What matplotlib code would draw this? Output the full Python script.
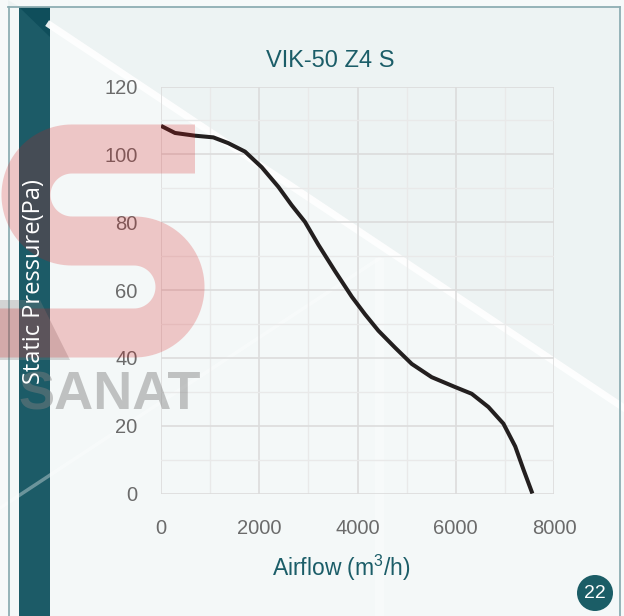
import numpy as np
import matplotlib.pyplot as plt
from matplotlib.patches import Rectangle, Polygon, Circle

plt.rcParams['mathtext.fontset'] = 'custom'
plt.rcParams['mathtext.rm'] = 'Liberation Sans'

# fan curve
airflow = [0, 285, 690, 1065, 1370, 1710, 2050, 2390, 2660, 2930, 3205, 3545,
           3885, 4155, 4425, 4765, 5105, 5510, 5985, 6325, 6665, 6970, 7210,
           7380, 7560]
pressure = [108.4, 106.3, 105.5, 105, 103.3, 100.8, 96.2, 90.4, 85, 80.1, 73.3,
            65.5, 58, 52.8, 48, 43, 38.2, 34.3, 31.4, 29.4, 25.5, 20.6, 13.9,
            7, 0]

xticks = [0, 2000, 4000, 6000, 8000]
yticks = [0, 20, 40, 60, 80, 100, 120]

title = 'VIK-50 Z4 S'
teal = '#1b5d68'

fig = plt.figure(figsize=(6.24, 6.16), dpi=100)
fig.patch.set_facecolor('#f6f9f9')

# background layer in pixel coords
bg = fig.add_axes([0, 0, 1, 1], zorder=0)
bg.set_xlim(0, 624)
bg.set_ylim(616, 0)
bg.axis('off')
bg.add_patch(Rectangle((8, 7), 612, 609, color='#f4f8f8', lw=0))
bg.add_patch(Polygon([(8, 7), (620, 7), (620, 405), (50, 25), (8, 0)],
                     closed=True, color='#edf3f3', lw=0))
bg.plot([50, 624], [25, 408], color='white', lw=5, alpha=0.9)
bg.plot([0, 380], [508, 258], color='white', lw=2.5, alpha=0.35)
bg.add_patch(Rectangle((375, 258), 9, 358, color='white', alpha=0.3, lw=0))
bg.plot([8.5, 8.5], [7, 616], color='#8eaeb3', lw=1.3)
bg.plot([8, 620], [7, 7], color='#8eaeb3', lw=1.3)
bg.plot([620, 620], [7, 616], color='#8eaeb3', lw=1.3)
bg.add_patch(Rectangle((19, 7), 31, 609, color='#1c5b67', lw=0))
bg.add_patch(Polygon([(19, 7), (50, 7), (50, 37)], closed=True, color='#0f4e5b', lw=0))

ax = fig.add_axes([161 / 624, 122.5 / 616, 393 / 624, 407 / 616], zorder=1)
ax.patch.set_alpha(0)
ax.plot(airflow, pressure, color='#231f1f', lw=2.9, solid_capstyle='butt',
        solid_joinstyle='round')
ax.set_xlim(0, 8000)
ax.set_ylim(0, 120)
ax.set_xticks(xticks)
ax.set_yticks(yticks)
ax.set_xticks(range(1000, 8000, 2000), minor=True)
ax.set_yticks(range(10, 120, 20), minor=True)
ax.grid(True, which='major', color='#dcdcdc', lw=1.2)
ax.grid(True, which='minor', color='#e9e9e9', lw=1.0)
ax.set_axisbelow(True)
for s in ax.spines.values():
    s.set_visible(False)
ax.tick_params(which='both', length=0)
ax.tick_params(axis='y', pad=17)
ax.tick_params(axis='x', pad=18)
for lab in ax.get_xticklabels() + ax.get_yticklabels():
    lab.set_fontfamily('Liberation Sans')
    lab.set_fontsize(14.5)
    lab.set_color('#6b6b6b')

fig.text(330 / 624, 1 - 61 / 616, title, ha='center', va='center',
         fontsize=17, color=teal, family='Liberation Sans')
fig.text(341 / 624, 1 - 568 / 616, r'Airflow (m$^{\mathrm{3}}$/h)', ha='center',
         va='center', fontsize=16.5, color=teal, family='Liberation Sans')

# watermark + overlays
fg = fig.add_axes([0, 0, 1, 1], zorder=2)
fg.set_xlim(0, 624)
fg.set_ylim(616, 0)
fg.axis('off')
fg.patch.set_alpha(0)

t = np.linspace(0, np.pi, 60)
sx = np.concatenate([[195], 72 - 46 * np.sin(t), 134 + 46 * np.sin(t), [0]])
sy = np.concatenate([[149], 195 - 46 * np.cos(t), 287 - 46 * np.cos(t), [333]])
fg.plot(sx, sy, color='#d81818', alpha=0.22, lw=35.3,
        solid_capstyle='butt', solid_joinstyle='miter')
fg.add_patch(Polygon([(0, 300), (40, 300), (70, 360), (0, 360)], closed=True,
                     color='#808080', alpha=0.3, lw=0))
fg.text(19, 410, 'SANAT', fontsize=39, weight='bold', color='#808080',
        alpha=0.45, family='Liberation Sans', ha='left', va='baseline')

fg.text(34, 282, 'Static Pressure(Pa)', rotation=90, ha='center', va='center',
        fontsize=17, color='white', family='Open Sans')

fg.add_patch(Circle((595, 593), 18, color='#1b5d66', lw=0))
fg.text(595, 594, '22', ha='center', va='center', fontsize=14, color='white',
        family='Liberation Sans')

fig.savefig('out.png', dpi=100)
